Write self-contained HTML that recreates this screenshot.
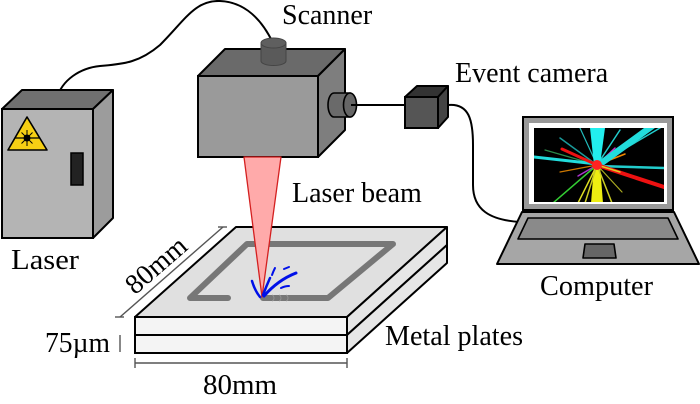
<!DOCTYPE html>
<html>
<head>
<meta charset="utf-8">
<style>
  html,body{margin:0;padding:0;background:#fff;}
  body{width:700px;height:404px;overflow:hidden;}
  svg{display:block;}
  text{font-family:"Liberation Serif","Times New Roman",serif;font-size:28px;fill:#000;}
</style>
</head>
<body>
<svg width="700" height="404" viewBox="0 0 700 404" xmlns="http://www.w3.org/2000/svg">
  <!-- cable laser -> scanner -->
  <path d="M57,98 C62,80 80,68 100,66 C125,64 140,62 160,45 C185,20 195,0 220,1 C245,2 262,20 273,43" fill="none" stroke="#000" stroke-width="2"/>

  <!-- Laser cabinet -->
  <polygon points="2,109 22,90 113,90 93,109" fill="#707070" stroke="#000" stroke-width="2" stroke-linejoin="round"/>
  <polygon points="93,109 113,90 113,218 93,238" fill="#9c9c9c" stroke="#000" stroke-width="2" stroke-linejoin="round"/>
  <rect x="2" y="109" width="91" height="129" fill="#b4b4b4" stroke="#000" stroke-width="2"/>
  <!-- warning triangle -->
  <polygon points="27,117 8,150 47,150" fill="#f6cf14" stroke="#000" stroke-width="1.6" stroke-linejoin="round"/>
  <g stroke="#000" stroke-width="1">
    <line x1="15" y1="138" x2="40" y2="138" stroke-width="1.2"/>
    <line x1="27" y1="130" x2="27" y2="146"/>
    <line x1="21.5" y1="132.5" x2="32.5" y2="143.5"/>
    <line x1="32.5" y1="132.5" x2="21.5" y2="143.5"/>
  </g>
  <circle cx="27" cy="138" r="3.5" fill="#000"/>
  <!-- handle -->
  <rect x="71" y="153" width="12" height="32" fill="#222" stroke="#000" stroke-width="1.5"/>

  <!-- Scanner -->
  <polygon points="198,76 225,49 345,49 318,76" fill="#6a6a6a" stroke="#000" stroke-width="2" stroke-linejoin="round"/>
  <polygon points="318,76 345,49 345,130 318,157" fill="#7e7e7e" stroke="#000" stroke-width="2" stroke-linejoin="round"/>
  <rect x="198" y="76" width="120" height="81" fill="#9a9a9a" stroke="#000" stroke-width="2"/>
  <!-- knob -->
  <path d="M261,43 L261,61 A12.5,4.5 0 0 0 286,61 L286,43 Z" fill="#5a5a5a" stroke="#444" stroke-width="1"/>
  <ellipse cx="273.5" cy="43" rx="12.5" ry="5" fill="#5f5f5f" stroke="#444" stroke-width="1"/>
  <!-- side lens -->
  <path d="M334,93 L350,93 L350,117 L334,117 A6,12 0 0 1 334,93 Z" fill="#6a6a6a" stroke="#000" stroke-width="1.6"/>
  <ellipse cx="350" cy="105" rx="6.5" ry="12" fill="#666" stroke="#000" stroke-width="1.6"/>
  <line x1="351" y1="105" x2="405" y2="105" stroke="#000" stroke-width="2"/>

  <!-- Event camera -->
  <polygon points="405,97 417,86 448,86 438,97" fill="#333" stroke="#000" stroke-width="2" stroke-linejoin="round"/>
  <polygon points="438,97 448,86 448,117 438,128" fill="#444" stroke="#000" stroke-width="2" stroke-linejoin="round"/>
  <rect x="405" y="97" width="33" height="31" fill="#555" stroke="#000" stroke-width="2"/>
  <!-- cable camera -> computer -->
  <path d="M448,105 C469,103 473,120 473,145 L473,185 C473,210 490,220 520,222" fill="none" stroke="#000" stroke-width="2"/>

  <!-- Laptop -->
  <polygon points="522,212 674,212 699,264 497,264" fill="#a6a6a6" stroke="#000" stroke-width="2" stroke-linejoin="round"/>
  <polygon points="528,218 668,218 678,239 518,239" fill="#8a8a8a" stroke="#000" stroke-width="1.6" stroke-linejoin="round"/>
  <polygon points="585,244 614,244 616,258 583,258" fill="#666" stroke="#000" stroke-width="1.6" stroke-linejoin="round"/>
  <rect x="523" y="117" width="150" height="93" fill="#999" stroke="#000" stroke-width="2"/>
  <rect x="529" y="123" width="138" height="81" fill="#fff"/>
  <rect x="534" y="128" width="130" height="74" fill="#000"/>
  <g>
    <clipPath id="scr"><rect x="534" y="128" width="130" height="74"/></clipPath>
    <g clip-path="url(#scr)" stroke-linecap="round">
      <line x1="597" y1="165" x2="560" y2="138" stroke="#1a9a9a" stroke-width="1.5"/>
      <line x1="597" y1="165" x2="545" y2="150" stroke="#2a8a4a" stroke-width="1.2"/>
      <line x1="597" y1="165" x2="615" y2="148" stroke="#c3c" stroke-width="1.5"/>
      <line x1="597" y1="165" x2="578" y2="176" stroke="#a3c" stroke-width="1.5"/>
      <line x1="597" y1="165" x2="625" y2="154" stroke="#e80" stroke-width="1.5"/>
      <line x1="597" y1="165" x2="560" y2="172" stroke="#c70" stroke-width="1.2"/>
      <line x1="597" y1="165" x2="660" y2="128" stroke="#2cc" stroke-width="1.5"/>
      <line x1="597" y1="165" x2="620" y2="130" stroke="#2cc" stroke-width="1.5"/>
      <line x1="597" y1="165" x2="580" y2="128" stroke="#2bb" stroke-width="1.2"/>
      <polygon points="594,165 590,128 605,128 600,165" fill="#2ee"/>
      <polygon points="596,163 644,128 655,128 600,168" fill="#2dd"/>
      <line x1="597" y1="164" x2="534" y2="157" stroke="#2dd" stroke-width="3"/>
      <line x1="597" y1="166" x2="664" y2="168" stroke="#2cc" stroke-width="2.5"/>
      <line x1="597" y1="165" x2="562" y2="149" stroke="#e11" stroke-width="3"/>
      <line x1="597" y1="165" x2="664" y2="187" stroke="#e11" stroke-width="4"/>
      <polygon points="594,165 591,203 603,203 600,165" fill="#ee1"/>
      <line x1="597" y1="165" x2="578" y2="203" stroke="#dd2" stroke-width="1.5"/>
      <line x1="597" y1="165" x2="585" y2="203" stroke="#cc2" stroke-width="1.5"/>
      <line x1="597" y1="165" x2="612" y2="203" stroke="#cc2" stroke-width="1.5"/>
      <line x1="597" y1="165" x2="622" y2="192" stroke="#aa2" stroke-width="1.2"/>
      <line x1="597" y1="165" x2="553" y2="203" stroke="#3c3" stroke-width="1.5"/>
      <line x1="597" y1="165" x2="620" y2="172" stroke="#dc2" stroke-width="1.5"/>
      <circle cx="597" cy="165" r="5" fill="#f22"/>
    </g>
  </g>

  <!-- Metal plates -->
  <polygon points="135,317 236,227 447,227 347,317" fill="#e0e0e0" stroke="#000" stroke-width="2" stroke-linejoin="round"/>
  <polygon points="347,317 447,227 447,245 347,335" fill="#e6e6e6" stroke="#000" stroke-width="2" stroke-linejoin="round"/>
  <polygon points="347,335 447,245 447,263 347,353" fill="#e6e6e6" stroke="#000" stroke-width="2" stroke-linejoin="round"/>
  <rect x="135" y="317" width="212" height="18" fill="#f4f4f4" stroke="#000" stroke-width="2"/>
  <rect x="135" y="335" width="212" height="18" fill="#f4f4f4" stroke="#000" stroke-width="2"/>
  <!-- scan path -->
  <path d="M228,298 L190,298 L247,244 L393,244 L328,298 L263,298" fill="none" stroke="#777" stroke-width="6" stroke-linecap="round" stroke-linejoin="round"/>
  <g fill="none" stroke="#999" stroke-width="0.8">
    <path d="M272,295 a2,3 0 0 1 0,6"/>
    <path d="M279,295 a2,3 0 0 1 0,6"/>
    <path d="M286,295 a2,3 0 0 1 0,6"/>
  </g>

  <!-- Laser beam -->
  <polygon points="244,157 281,157 262,297" fill="#ffaaaa" stroke="#d42020" stroke-width="1.3" stroke-linejoin="round"/>
  <!-- splash -->
  <g fill="none" stroke="#0010e8" stroke-linecap="round">
    <path d="M252,281 Q255,291 260,297" stroke-width="2.5"/>
    <path d="M270,278 Q266,287 263,295" stroke-width="2.5"/>
    <path d="M264,296 Q278,280 296,273" stroke-width="3"/>
    <path d="M275,268 Q273,272 272,275" stroke-width="2"/>
    <path d="M284,269 L289,267" stroke-width="2"/>
    <path d="M281,288 Q285,286 289,286" stroke-width="2"/>
  </g>

  <!-- dimension lines -->
  <g stroke="#555" stroke-width="1.4" fill="none">
    <line x1="120" y1="317" x2="223" y2="227"/>
    <line x1="115" y1="317" x2="124" y2="317"/>
    <line x1="218" y1="227" x2="227" y2="227"/>
    <line x1="135" y1="363" x2="347" y2="363"/>
    <line x1="135" y1="358" x2="135" y2="368"/>
    <line x1="347" y1="358" x2="347" y2="368"/>
    <line x1="120" y1="335" x2="120" y2="352"/>
  </g>

  <!-- Labels -->
  <text x="282" y="24">Scanner</text>
  <text x="455" y="82">Event camera</text>
  <text x="292" y="202">Laser beam</text>
  <text x="11" y="269" textLength="68" lengthAdjust="spacingAndGlyphs">Laser</text>
  <text x="540" y="295" textLength="113" lengthAdjust="spacingAndGlyphs">Computer</text>
  <text x="385" y="345" textLength="138" lengthAdjust="spacingAndGlyphs">Metal plates</text>
  <text x="203" y="394" textLength="74" lengthAdjust="spacingAndGlyphs">80mm</text>
  <text x="45" y="352" textLength="65" lengthAdjust="spacingAndGlyphs">75µm</text>
  <text transform="translate(162,272) rotate(-41)" text-anchor="middle">80mm</text>
</svg>
</body>
</html>
